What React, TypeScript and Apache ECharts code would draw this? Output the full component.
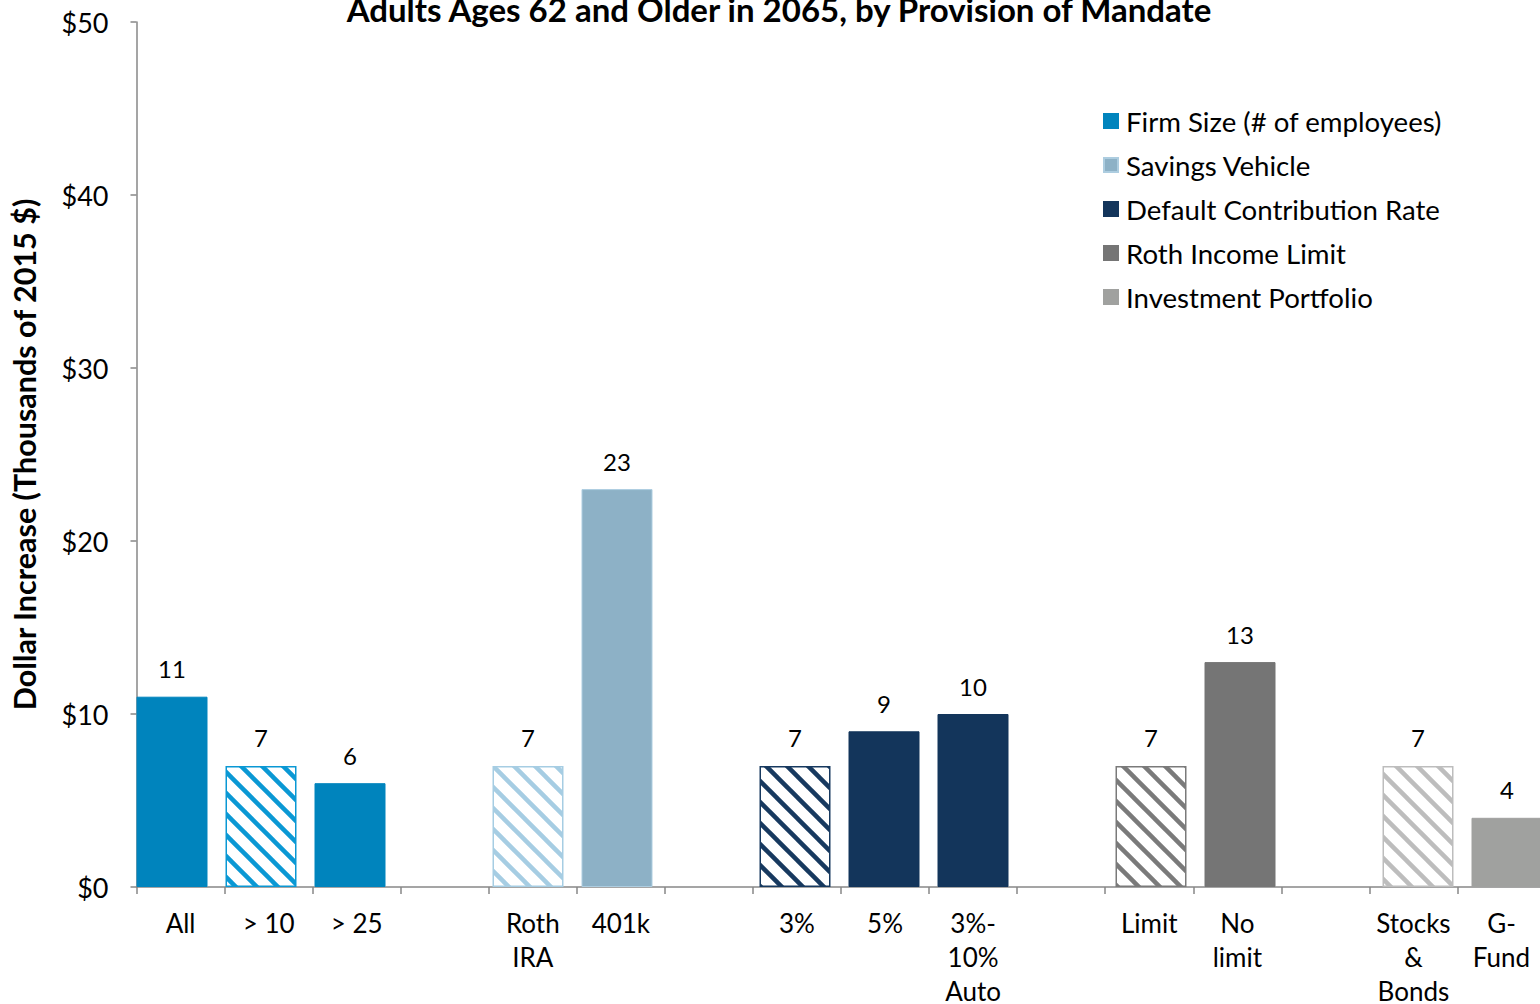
import React, { useEffect, useRef } from "react";
import * as echarts from "echarts";

// ---- Data ----
const titleText = "Adults Ages 62 and Older in 2065, by Provision of Mandate";
const yAxisName = "Dollar Increase (Thousands of 2015 $)";

const groupNames = [
  "Firm Size (# of employees)",
  "Savings Vehicle",
  "Default Contribution Rate",
  "Roth Income Limit",
  "Investment Portfolio",
];

const firmCats = ["All", "> 10", "> 25"];
const firmValues = [11, 7, 6];
const firmHatched = [false, true, false];

const savingsCats = ["Roth\nIRA", "401k"];
const savingsValues = [7, 23];
const savingsHatched = [true, false];

const defaultCats = ["3%", "5%", "3%-\n10%\nAuto"];
const defaultValues = [7, 9, 10];
const defaultHatched = [true, false, false];

const rothCats = ["Limit", "No\nlimit"];
const rothValues = [7, 13];
const rothHatched = [true, false];

const investCats = ["Stocks\n&\nBonds", "G-\nFund"];
const investValues = [7, 4];
const investHatched = [true, false];

const yTicks = [0, 10, 20, 30, 40, 50];

// ---- Styles ----
const FONT = "Lato";
const groupStyles = [
  { solid: "#0084BD", border: "#0084BD", hatch: "#0A98D4" },
  { solid: "#8DB1C6", border: "#ADCDE0", hatch: "#A6CDE3" },
  { solid: "#13355B", border: "#13355B", hatch: "#17395F" },
  { solid: "#757575", border: "#757575", hatch: "#7A7A7A" },
  { solid: "#A0A19F", border: "#A0A19F", hatch: "#BDBDBD" },
];

function makeHatch(color: string) {
  const s = 21;
  const c = document.createElement("canvas");
  c.width = s;
  c.height = s;
  const ctx = c.getContext("2d")!;
  ctx.fillStyle = "#ffffff";
  ctx.fillRect(0, 0, s, s);
  ctx.strokeStyle = color;
  ctx.lineWidth = 4.5;
  for (let k = -1; k <= 1; k++) {
    ctx.beginPath();
    ctx.moveTo(-2, -2 + k * s);
    ctx.lineTo(s + 2, s + 2 + k * s);
    ctx.stroke();
  }
  return { image: c.toDataURL(), repeat: "repeat", imageWidth: s, imageHeight: s } as any;
}

export default function App() {
  const ref = useRef<HTMLDivElement>(null);

  useEffect(() => {
    if (!ref.current) return;
    const chart = echarts.init(ref.current, null, { renderer: "svg" });

    const groups = [
      { cats: firmCats, vals: firmValues, hatched: firmHatched },
      { cats: savingsCats, vals: savingsValues, hatched: savingsHatched },
      { cats: defaultCats, vals: defaultValues, hatched: defaultHatched },
      { cats: rothCats, vals: rothValues, hatched: rothHatched },
      { cats: investCats, vals: investValues, hatched: investHatched },
    ];

    const categories: string[] = [];
    const positions: number[][] = [];
    groups.forEach((g, gi) => {
      if (gi > 0) categories.push(" ".repeat(gi));
      const pos: number[] = [];
      g.cats.forEach((c) => {
        pos.push(categories.length);
        categories.push(c);
      });
      positions.push(pos);
    });

    const series: any[] = groups.map((g, gi) => {
      const st = groupStyles[gi];
      const hatchFill = makeHatch(st.hatch);
      const data: any[] = categories.map(() => "-");
      g.vals.forEach((v, i) => {
        const idx = positions[gi][i];
        if (g.hatched[i]) {
          data[idx] = {
            value: v,
            itemStyle: { color: hatchFill, borderColor: st.hatch, borderWidth: 1.5 },
          };
        } else {
          data[idx] = v;
        }
      });
      return {
        name: groupNames[gi],
        type: "bar",
        stack: "all",
        xAxisIndex: 1,
        yAxisIndex: 1,
        barWidth: 71,
        data,
        itemStyle: { color: st.solid, borderColor: st.border, borderWidth: 1 },
        label: {
          show: true,
          position: "top",
          distance: 16,
          fontFamily: FONT,
          fontSize: 24,
          color: "#000",
          formatter: "{c}",
        },
      };
    });

    const axisGray = "#878787";

    chart.setOption({
      animation: false,
      backgroundColor: "#ffffff",
      textStyle: { fontFamily: FONT },
      grid: [
        { left: 136.5, width: 1409, top: 22, bottom: 117, containLabel: false, outerBoundsMode: "none" },
        { left: 127.5, width: 1424, top: 22, bottom: 117, containLabel: false, outerBoundsMode: "none" },
      ],
      legend: {
        data: groupNames,
        orient: "vertical",
        left: 1103,
        top: 107,
        padding: 0,
        itemWidth: 14,
        itemHeight: 14,
        itemGap: 16,
        icon: "rect",
        selectedMode: false,
        textStyle: { fontFamily: FONT, fontSize: 27.6, color: "#000", lineHeight: 26, padding: [0, 0, 0, 3] },
      },
      xAxis: [
        {
          type: "category",
          gridIndex: 0,
          data: categories,
          boundaryGap: true,
          axisLine: { show: true, lineStyle: { color: axisGray, width: 1.5 } },
          axisTick: { show: true, length: 7, lineStyle: { color: axisGray, width: 1.5 } },
          axisLabel: {
            interval: 0,
            margin: 19,
            fontFamily: FONT,
            fontSize: 26,
            lineHeight: 34,
            color: "#000",
          },
        },
        {
          type: "category",
          gridIndex: 1,
          data: categories,
          boundaryGap: true,
          show: false,
        },
      ],
      yAxis: [
        {
          type: "value",
          gridIndex: 0,
          min: 0,
          max: 50,
          interval: 10,
          name: yAxisName,
          nameLocation: "middle",
          nameGap: 97,
          nameTextStyle: { fontFamily: FONT, fontSize: 30.5, fontWeight: "bold", color: "#000" },
          splitLine: { show: false },
          axisLine: { show: true, lineStyle: { color: axisGray, width: 1.5 } },
          axisTick: { show: true, length: 6, lineStyle: { color: axisGray, width: 1.5 } },
          axisLabel: {
            margin: 28,
            fontFamily: FONT,
            fontSize: 27,
            color: "#000",
            formatter: (v: number) => (yTicks.includes(v) ? "$" + v : ""),
          },
        },
        {
          type: "value",
          gridIndex: 1,
          min: 0,
          max: 50,
          interval: 10,
          show: false,
          splitLine: { show: false },
        },
      ],
      graphic: [
        {
          type: "text",
          x: 779,
          y: 9,
          style: {
            text: titleText,
            fontFamily: FONT,
            fontSize: 33,
            fontWeight: "bold",
            fill: "#000",
            textAlign: "center",
            textVerticalAlign: "middle",
          },
        },
      ],
      series,
    });

    return () => chart.dispose();
  }, []);

  return (
    <div
      ref={ref}
      style={{ position: "absolute", left: 0, top: 0, width: 1540, height: 1004 }}
    />
  );
}
